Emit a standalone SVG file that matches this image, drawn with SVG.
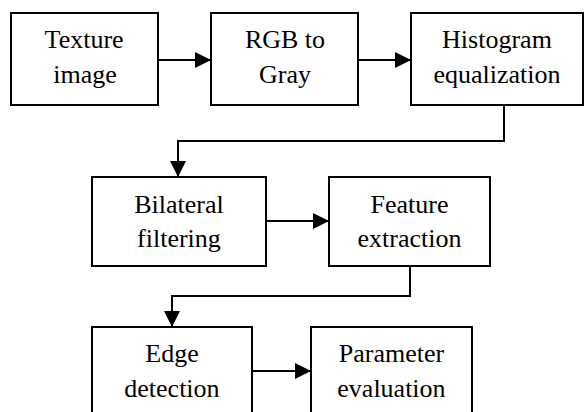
<svg xmlns="http://www.w3.org/2000/svg" width="585" height="412" viewBox="0 0 585 412">
  <defs>
    <marker id="head" markerUnits="userSpaceOnUse" markerWidth="17" markerHeight="17" viewBox="0 0 17 17" refX="16" refY="8" orient="auto">
      <path d="M0,0 L16,8 L0,16 Z" fill="#000000"/>
    </marker>
  </defs>
  <rect width="585" height="412" fill="#ffffff"/>

  <g id="connectors" fill="none" stroke="#000000" stroke-width="2">
    <path d="M158,60 H211" marker-end="url(#head)"/>
    <path d="M358,60 H411" marker-end="url(#head)"/>
    <path d="M504,105 V141 H178 V177" marker-end="url(#head)"/>
    <path d="M266,221 H329" marker-end="url(#head)"/>
    <path d="M410,266 V296 H172 V327" marker-end="url(#head)"/>
    <path d="M252,371 H311" marker-end="url(#head)"/>
  </g>

  <!-- block labels: two lines per box, start positions centre each line in its box -->
  <g id="texture-image">
    <rect x="11" y="13" width="147" height="92" fill="#ffffff" stroke="#000000" stroke-width="2"/>
    <text x="44.6" y="48" font-family="'Liberation Serif', serif" font-size="26">Texture</text>
    <text x="53.2" y="83" font-family="'Liberation Serif', serif" font-size="26">image</text>
  </g>
  <g id="rgb-to-gray">
    <rect x="211" y="13" width="147" height="92" fill="#ffffff" stroke="#000000" stroke-width="2"/>
    <text x="244.9" y="48" font-family="'Liberation Serif', serif" font-size="26">RGB to</text>
    <text x="259" y="83" font-family="'Liberation Serif', serif" font-size="26">Gray</text>
  </g>
  <g id="histogram-equalization">
    <rect x="411" y="13" width="172" height="92" fill="#ffffff" stroke="#000000" stroke-width="2"/>
    <text x="442.1" y="48" font-family="'Liberation Serif', serif" font-size="26">Histogram</text>
    <text x="433.5" y="83" font-family="'Liberation Serif', serif" font-size="26">equalization</text>
  </g>
  <g id="bilateral-filtering">
    <rect x="92" y="177" width="174" height="89" fill="#ffffff" stroke="#000000" stroke-width="2"/>
    <text x="134.2" y="213" font-family="'Liberation Serif', serif" font-size="26">Bilateral</text>
    <text x="137.1" y="247" font-family="'Liberation Serif', serif" font-size="26">filtering</text>
  </g>
  <g id="feature-extraction">
    <rect x="329" y="177" width="161" height="89" fill="#ffffff" stroke="#000000" stroke-width="2"/>
    <text x="370.5" y="213" font-family="'Liberation Serif', serif" font-size="26">Feature</text>
    <text x="357.5" y="247" font-family="'Liberation Serif', serif" font-size="26">extraction</text>
  </g>
  <g id="edge-detection">
    <rect x="92" y="327" width="160" height="110" fill="#ffffff" stroke="#000000" stroke-width="2"/>
    <text x="145.3" y="362" font-family="'Liberation Serif', serif" font-size="26">Edge</text>
    <text x="124.3" y="397" font-family="'Liberation Serif', serif" font-size="26">detection</text>
  </g>
  <g id="parameter-evaluation">
    <rect x="311" y="327" width="161" height="110" fill="#ffffff" stroke="#000000" stroke-width="2"/>
    <text x="338.8" y="362" font-family="'Liberation Serif', serif" font-size="26">Parameter</text>
    <text x="337.3" y="397" font-family="'Liberation Serif', serif" font-size="26">evaluation</text>
  </g>
</svg>
